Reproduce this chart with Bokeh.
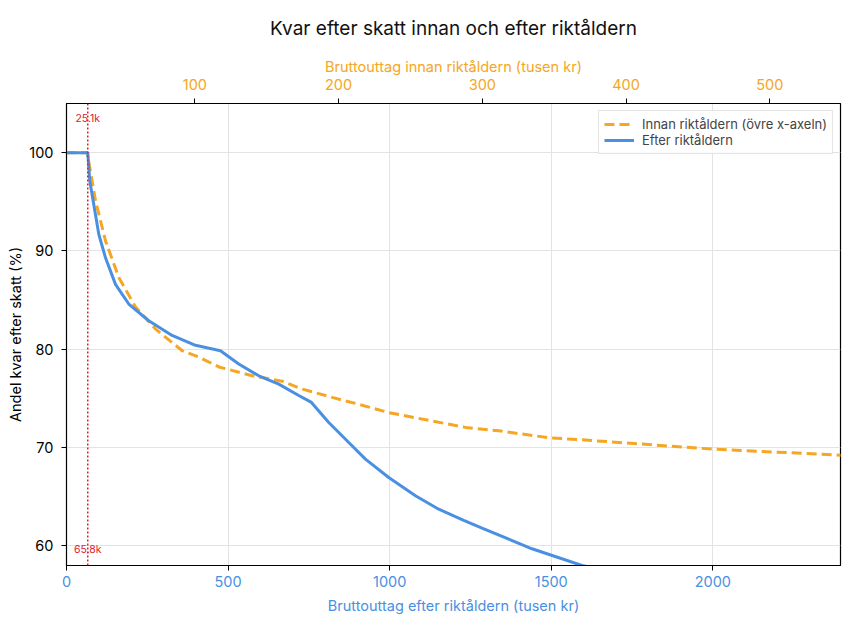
from bokeh.plotting import figure
from bokeh.models import (LinearAxis, Range1d, FixedTicker, Span, Label, Legend, LegendItem)
from bokeh.embed import file_html
from bokeh.resources import INLINE

# ---- data ----
title_text = "Kvar efter skatt innan och efter riktåldern"
thresh_before = 25.1   # tusen kr (innan riktåldern)
thresh_after = 65.8    # tusen kr (efter riktåldern)

before_x = [0, 25.1, 30.9, 37.9, 47.1, 58.7, 72.7, 91.2, 102.8, 116.7, 139.9,
            160.7, 173.5, 195.5, 214.1, 235.0, 288.3, 311.5, 346.3, 371.8, 459.9, 544.5, 560]
before_y = [100, 100, 95.1, 91.0, 87.3, 84.3, 82.05, 79.85, 79.2, 78.2, 77.3,
            76.75, 76.0, 75.1, 74.4, 73.55, 72.05, 71.7, 71.0, 70.76, 69.84, 69.26, 69.15]

after_x = [0, 65.8, 72, 82.4, 99.9, 120.7, 151.6, 192.7, 254.6, 326.7, 399.1, 476.4,
           533, 595, 656.8, 718.7, 758, 811.5, 873.4, 925, 997.1, 1079.7, 1151.8,
           1229.2, 1285.8, 1440.5, 1595, 1800, 2400]
after_y = [100, 100, 97.15, 95.1, 91.7, 89.3, 86.6, 84.6, 82.9, 81.4, 80.4, 79.85,
           78.5, 77.3, 76.45, 75.3, 74.59, 72.55, 70.51, 68.82, 66.95, 65.1, 63.73,
           62.6, 61.8, 59.7, 58.0, 56.6, 53.0]

bottom_ticks = [0, 500, 1000, 1500, 2000]
top_ticks = [100, 200, 300, 400, 500]
y_ticks = [60, 70, 80, 90, 100]

ORANGE = "#F5A623"
BLUE = "#4A90E2"
FONT = "Inter"
FW, FH = 774, 462

p = figure(frame_width=FW, frame_height=FH, output_backend="svg", toolbar_location=None,
           x_range=Range1d(0, 2395), y_range=Range1d(58, 105),
           min_border_left=66, min_border_right=2, min_border_top=103, min_border_bottom=46)
p.extra_x_ranges = {"top": Range1d(10.7, 549.2)}

p.title.text = title_text
p.title.align = "center"
p.title.vertical_align = "top"
p.title.text_font = FONT
p.title.text_font_style = "normal"
p.title.text_font_size = "19px"
p.title.text_color = "#111111"
p.title.standoff = 26

p.outline_line_color = "black"
p.outline_line_width = 1.2


def style_axis(ax, col):
    ax.axis_label_text_color = col
    ax.major_label_text_color = col
    ax.axis_label_text_font = FONT
    ax.major_label_text_font = FONT
    ax.axis_label_text_font_style = "normal"
    ax.axis_label_text_font_size = "14.5px"
    ax.major_label_text_font_size = "14.5px"
    ax.minor_tick_line_color = None
    ax.major_tick_in = 0
    ax.major_tick_out = 5
    ax.axis_line_color = "black"
    ax.major_tick_line_color = "black"


# bottom axis
xa = p.xaxis[0]
xa.ticker = FixedTicker(ticks=bottom_ticks)
xa.axis_label = "Bruttouttag efter riktåldern (tusen kr)"
style_axis(xa, BLUE)
xa.major_label_standoff = 5
xa.axis_label_standoff = 7

top = LinearAxis(x_range_name="top", ticker=FixedTicker(ticks=top_ticks),
                 axis_label="Bruttouttag innan riktåldern (tusen kr)")
style_axis(top, ORANGE)
top.major_label_standoff = 9
top.axis_label_standoff = 1
p.add_layout(top, "above")

ya = p.yaxis[0]
ya.ticker = FixedTicker(ticks=y_ticks)
ya.axis_label = "Andel kvar efter skatt (%)"
style_axis(ya, "black")
ya.major_label_standoff = 8
ya.axis_label_standoff = 2

p.xgrid.grid_line_color = "#e3e3e3"
p.ygrid.grid_line_color = "#e3e3e3"

r_before = p.line(before_x, before_y, x_range_name="top", line_color=ORANGE,
                  line_width=3, line_dash="10 5")
r_after = p.line(after_x, after_y, line_color=BLUE, line_width=3)

span = Span(location=thresh_after, dimension="height", line_color="#e0202a",
            line_dash="2 2", line_width=1.5)
p.add_layout(span)
p.add_layout(Label(x=thresh_after, y=103.46, text=f"{thresh_before}k", text_color="#e0202a",
                   text_font=FONT, text_font_size="10.5px", text_align="center",
                   text_baseline="middle"))
p.add_layout(Label(x=thresh_after, y=59.6, text=f"{thresh_after}k", text_color="#e0202a",
                   text_font=FONT, text_font_size="10.5px", text_align="center",
                   text_baseline="middle"))

legend = Legend(items=[LegendItem(label="Innan riktåldern (övre x-axeln)", renderers=[r_before]),
                       LegendItem(label="Efter riktåldern", renderers=[r_after])],
                location="top_right", margin=7, padding=5, spacing=0,
                glyph_width=30, glyph_height=16, label_height=16, label_standoff=8,
                label_text_font=FONT, label_text_font_size="13px",
                border_line_color="#cccccc", border_line_width=1,
                background_fill_alpha=0.85)
p.add_layout(legend)

open("out.html", "w").write(file_html(p, INLINE))
